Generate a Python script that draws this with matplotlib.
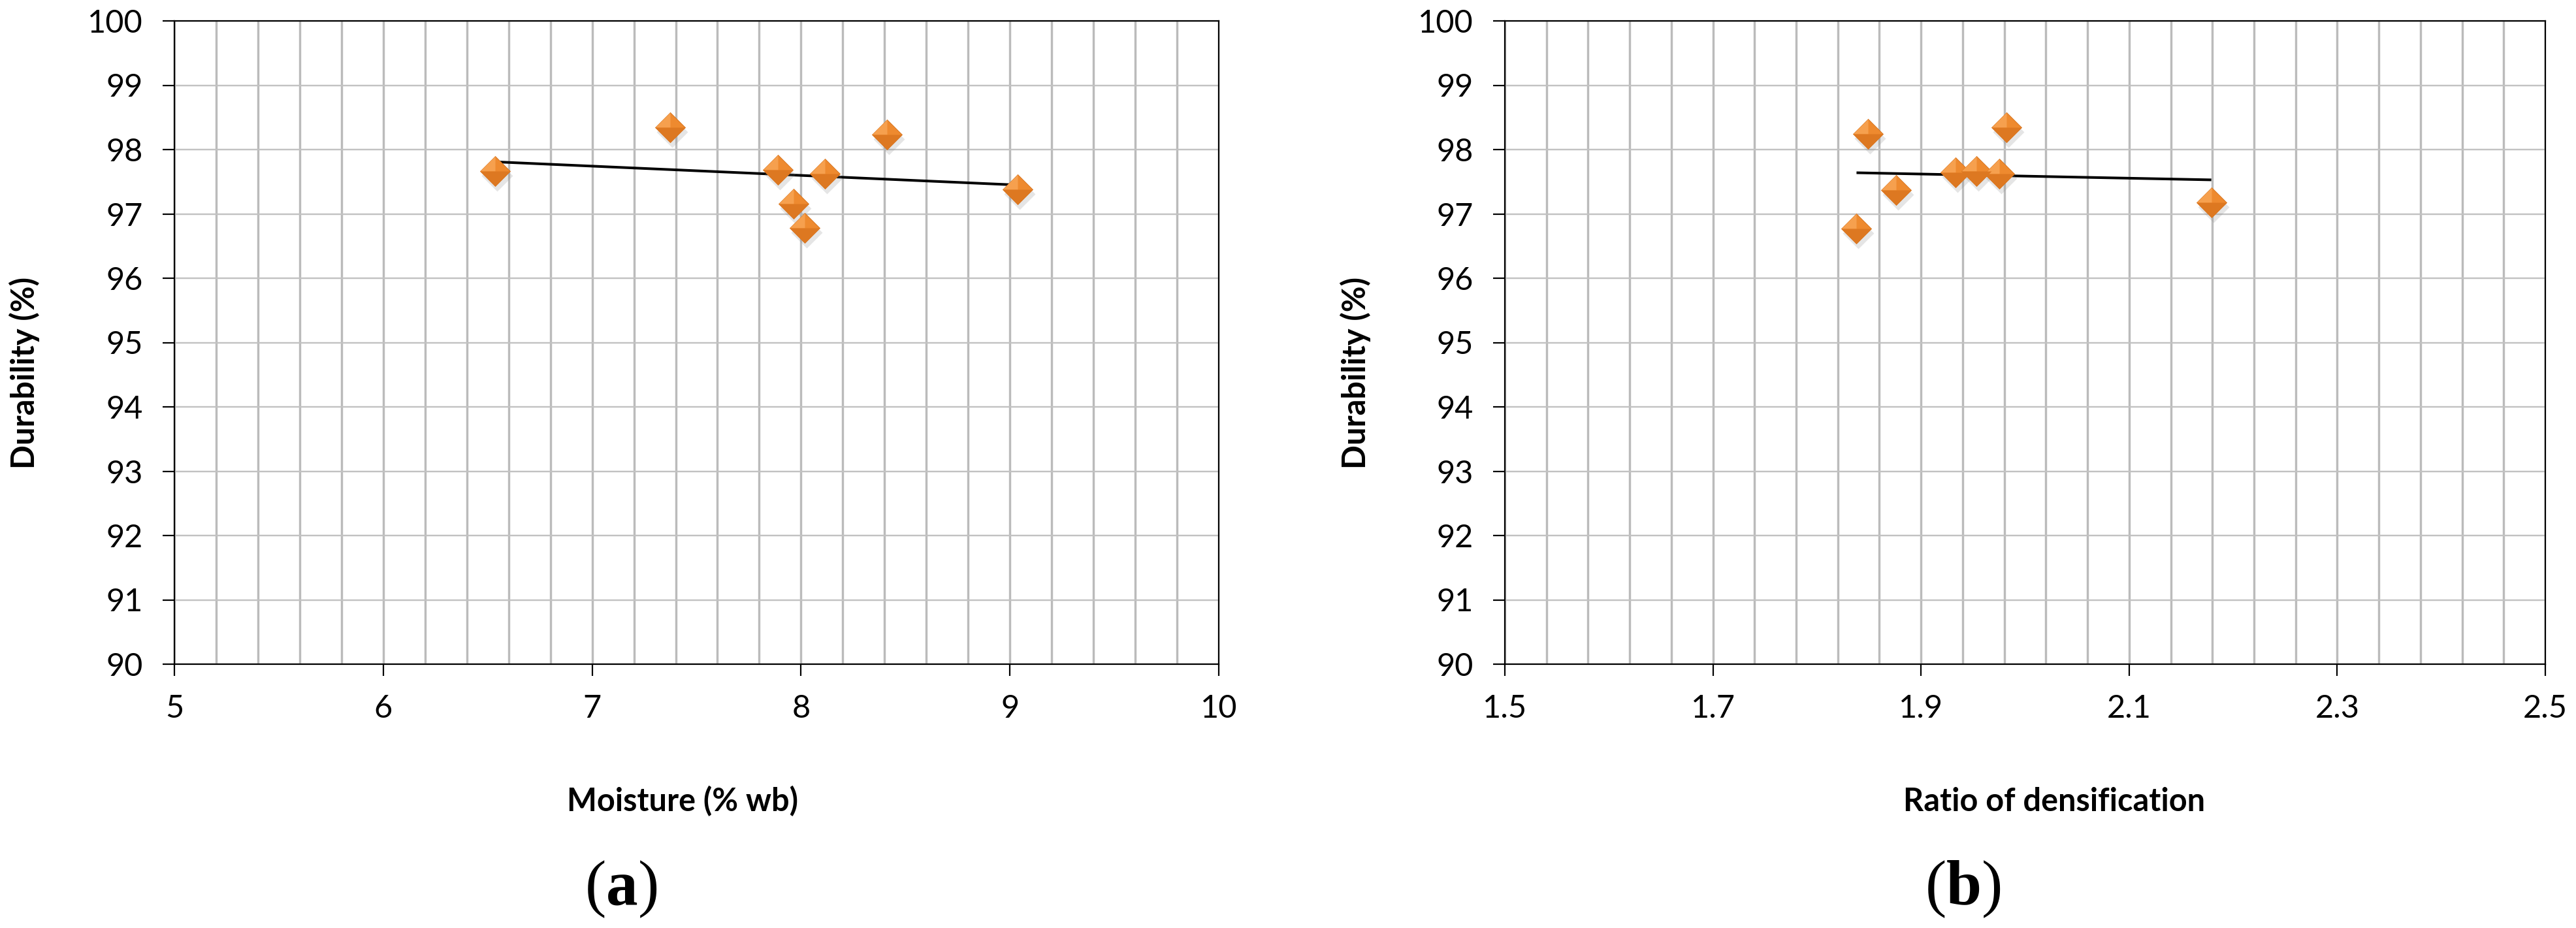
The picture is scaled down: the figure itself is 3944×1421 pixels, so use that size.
import numpy as np
import matplotlib
matplotlib.use("Agg")
import matplotlib.pyplot as plt
from matplotlib.ticker import FixedLocator, FixedFormatter
from matplotlib.transforms import offset_copy

# ---- data ----
moisture = [6.535, 7.372, 7.889, 7.964, 8.018, 8.113, 8.413, 9.037]
durability_a = [97.67, 98.35, 97.69, 97.16, 96.78, 97.62, 98.23, 97.38]

densification = [1.849, 1.838, 1.876, 1.933, 1.953, 1.975, 1.982, 2.179]
durability_b = [98.24, 96.77, 97.37, 97.64, 97.66, 97.62, 98.35, 97.18]

xticks_a = [5, 6, 7, 8, 9, 10]
xticklabels_a = ["5", "6", "7", "8", "9", "10"]
xticks_b = [1.5, 1.7, 1.9, 2.1, 2.3, 2.5]
xticklabels_b = ["1.5", "1.7", "1.9", "2.1", "2.3", "2.5"]
yticks = [90, 91, 92, 93, 94, 95, 96, 97, 98, 99, 100]

xlabels = ["Moisture (% wb)", "Ratio of densification"]
ylabel = "Durability (%)"
panel_tags = ["a", "b"]

W, H = 3944, 1421
DPI = 100
plt.rcParams["font.family"] = ["Lato", "DejaVu Sans"]
plt.rcParams["mathtext.fontset"] = "custom"
plt.rcParams["mathtext.rm"] = "Liberation Serif"
plt.rcParams["mathtext.bf"] = "Liberation Serif:bold"

fig = plt.figure(figsize=(W / DPI, H / DPI), dpi=DPI)

def px2pt(p):
    return p * 72.0 / DPI

diamond = [(0, 1), (1, 0), (0, -1), (-1, 0), (0, 1)]
lower_half = [(-1, 0), (1, 0), (0, -1), (-1, 0)]
upper_left = [(-1, 0), (0, 1), (0, 0), (-1, 0)]

def panel(rect, x, y, xticks, xticklabels, nsub):
    ax = fig.add_axes(rect)
    ax.set_xlim(xticks[0], xticks[-1])
    ax.set_ylim(yticks[0], yticks[-1])
    ax.xaxis.set_major_locator(FixedLocator(xticks))
    ax.xaxis.set_major_formatter(FixedFormatter(xticklabels))
    # vertical gridlines: each major interval split into nsub equal parts
    minor = np.linspace(xticks[0], xticks[-1], (len(xticks) - 1) * nsub + 1)
    ax.xaxis.set_minor_locator(FixedLocator(minor))
    ax.yaxis.set_major_locator(FixedLocator(yticks))
    ax.grid(True, which="both", axis="x", color="#BBBBBB", linewidth=px2pt(3.4))
    ax.grid(True, which="major", axis="y", color="#C2C2C2", linewidth=px2pt(2.4))
    ax.set_axisbelow(True)
    for s in ax.spines.values():
        s.set_color("black")
        s.set_linewidth(px2pt(2.2))
        s.set_zorder(5)
    ax.tick_params(which="major", direction="out", length=px2pt(18), width=px2pt(2.2),
                   labelsize=35, color="black")
    ax.tick_params(axis="x", which="major", pad=px2pt(28))
    ax.tick_params(axis="y", which="major", pad=px2pt(30))
    ax.tick_params(which="minor", length=0)

    # trendline (least squares), spanning the data range
    xs = np.array(x)
    ys = np.array(y)
    k, b = np.polyfit(xs, ys, 1)
    xl = np.array([xs.min(), xs.max()])
    ax.plot(xl, k * xl + b, color="black", linewidth=px2pt(4.0), zorder=4,
            solid_capstyle="butt")

    ms = px2pt(46)
    shadow_tr = offset_copy(ax.transData, fig=fig, x=3, y=-7, units="dots")
    ax.plot(xs, ys, linestyle="none", marker=diamond, markersize=ms * 1.04,
            markerfacecolor="#8a8a8a", markeredgewidth=0, alpha=0.22,
            transform=shadow_tr, zorder=5)
    ax.plot(xs, ys, linestyle="none", marker=diamond, markersize=ms,
            markerfacecolor="#EE8A2F", markeredgecolor="#D2701C",
            markeredgewidth=0.6, zorder=6)
    ax.plot(xs, ys, linestyle="none", marker=upper_left, markersize=ms,
            markerfacecolor="#F6A04E", markeredgewidth=0, zorder=7)
    ax.plot(xs, ys, linestyle="none", marker=lower_half, markersize=ms,
            markerfacecolor="#DD7821", markeredgewidth=0, zorder=7)
    return ax

bottom = (H - 1017) / H
height = (1017 - 32) / H
ax1 = panel([267 / W, bottom, (1866 - 267) / W, height], moisture, durability_a,
            xticks_a, xticklabels_a, 5)
ax2 = panel([2304 / W, bottom, (3897 - 2304) / W, height], densification, durability_b,
            xticks_b, xticklabels_b, 5)

# axis titles placed like the original
fig.text(1045 / W, 1 - 1227 / H, xlabels[0], fontsize=35, fontweight="bold",
         ha="center", va="center")
fig.text(3145 / W, 1 - 1227 / H, xlabels[1], fontsize=35, fontweight="bold",
         ha="center", va="center")
fig.text(37 / W, 1 - 571 / H, ylabel, fontsize=35, fontweight="bold",
         rotation=90, ha="center", va="center")
fig.text(2075 / W, 1 - 571 / H, ylabel, fontsize=35, fontweight="bold",
         rotation=90, ha="center", va="center")

fig.text(951 / W, 1 - 1362 / H, r"$(\mathbf{%s})$" % panel_tags[0], fontsize=70,
         ha="center", va="center")
fig.text(3005 / W, 1 - 1362 / H, r"$(\mathbf{%s})$" % panel_tags[1], fontsize=70,
         ha="center", va="center")

fig.savefig("out.png", dpi=DPI, facecolor="white")
